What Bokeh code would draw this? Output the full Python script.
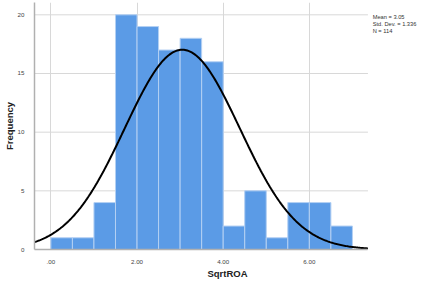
import numpy as np
from bokeh.plotting import figure
from bokeh.models import FixedTicker, Label, Range1d
from bokeh.embed import file_html
from bokeh.resources import INLINE

# ---- data ----
bin_left = [0.0, 0.5, 1.0, 1.5, 2.0, 2.5, 3.0, 3.5, 4.0, 4.5, 5.0, 5.5, 6.0, 6.5]
bin_width = 0.5
counts = [1, 1, 4, 20, 19, 17, 18, 16, 2, 5, 1, 4, 4, 2]
mean_val = 3.05
std_val = 1.336
n_val = 114
x_ticks = [0, 2, 4, 6]
x_tick_labels = [".00", "2.00", "4.00", "6.00"]
y_ticks = [0, 5, 10, 15, 20]
stats_lines = ["Mean = 3.05", "Std. Dev. = 1.336", "N = 114"]

FONT = "Liberation Sans"

x0, x1 = -0.38, 7.36          # visible plot area (axis extent)
x_end = 8.58                   # frame extends under the stats text
p = figure(width=420, height=282, output_backend="svg", toolbar_location=None,
           x_range=Range1d(x0, x_end), y_range=Range1d(0, 21.05),
           min_border_left=34, min_border_right=0, min_border_top=2, min_border_bottom=33)
p.outline_line_color = None
p.background_fill_color = "white"
p.ygrid.visible = False

# horizontal grid lines limited to the plot area
p.segment(x0=[x0] * len(y_ticks), x1=[x1] * len(y_ticks), y0=y_ticks, y1=y_ticks,
          line_color="#d8d8d8", line_width=1)

lefts = np.array(bin_left)
p.quad(left=lefts, right=lefts + bin_width, bottom=0, top=counts,
       fill_color="#5b9be6", line_color="#b4d0f3", line_width=1)

# fitted normal curve from displayed statistics
xs = np.linspace(x0, x1, 300)
ys = n_val * bin_width / (std_val * np.sqrt(2 * np.pi)) * np.exp(-0.5 * ((xs - mean_val) / std_val) ** 2)
p.line(xs, ys, line_color="black", line_width=2)

# axes
p.xaxis.ticker = FixedTicker(ticks=x_ticks)
p.xaxis.major_label_overrides = {t: l for t, l in zip(x_ticks, x_tick_labels)}
p.xaxis.bounds = (x0, x1)
p.yaxis.ticker = FixedTicker(ticks=y_ticks)
p.xgrid.ticker = FixedTicker(ticks=x_ticks)
p.xgrid.grid_line_color = "#d8d8d8"
p.xgrid.grid_line_width = 1
p.xgrid.level = "image"

for ax in (p.xaxis[0], p.yaxis[0]):
    ax.major_tick_line_color = None
    ax.minor_tick_line_color = None
    ax.axis_line_color = "#b0b0b0"
    ax.axis_line_width = 1.5
    ax.major_label_text_font = FONT
    ax.major_label_text_font_size = "6.2px"
    ax.major_label_text_color = "#444444"
    ax.axis_label_text_font = FONT
    ax.axis_label_text_font_size = "9.5px"
    ax.axis_label_text_font_style = "bold"
    ax.axis_label_text_color = "#222222"
    ax.major_label_standoff = 4

p.xaxis.axis_label_standoff = 1
p.yaxis.axis_label_standoff = 0
p.xaxis.axis_label = "SqrtROA"
p.yaxis.axis_label = "Frequency"

# stats box text
stat_y = [19.85, 19.24, 18.63]
for txt, yy in zip(stats_lines, stat_y):
    p.add_layout(Label(x=7.47, y=yy, text=txt, text_font=FONT, text_font_size="5.7px",
                       text_color="#333333", text_baseline="middle", text_align="left"))

open("out.html", "w").write(file_html(p, INLINE))
